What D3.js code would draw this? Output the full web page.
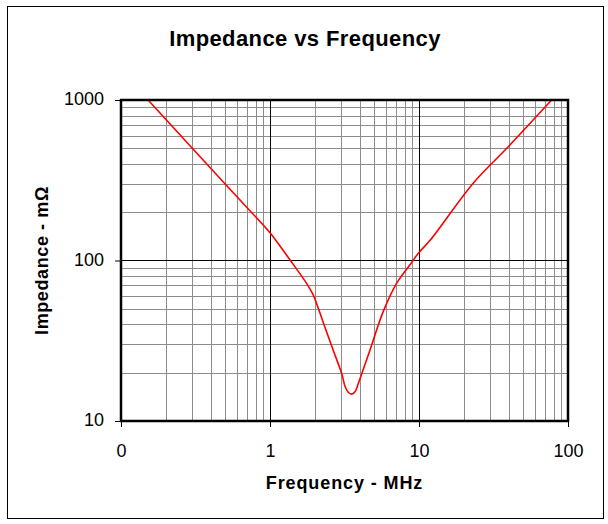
<!DOCTYPE html>
<html>
<head>
<meta charset="utf-8">
<script src="https://cdn.jsdelivr.net/npm/d3@7"></script>
<style>
  html, body { margin: 0; padding: 0; background: #fff; }
  svg { display: block; font-family: "Liberation Sans", Arial, sans-serif; }
</style>
</head>
<body>
<svg id="chart" width="608" height="524"></svg>
<script>
// ---- data ----
const freqMHz = [0.152, 0.3, 0.5, 0.7, 1.0, 1.36, 1.76, 1.95, 2.11, 2.28, 2.66, 3.03, 3.19, 3.35, 3.53, 3.72, 3.92, 4.69, 5.75, 7.07, 8.7, 9.9, 11.9, 23.1, 38.8, 77.6];
const impedance = [1000, 502, 300, 214, 149, 101, 72, 61, 50.3, 41, 27.5, 19.7, 16.4, 15.1, 14.7, 15.2, 17.2, 27.7, 48, 72, 94, 111, 134, 303, 500, 1000];
const xTickValues = [0.1, 1, 10, 100];
const xTickLabels = ["0", "1", "10", "100"];
const yTickValues = [10, 100, 1000];
const yTickLabels = ["10", "100", "1000"];
const title = "Impedance vs Frequency";
const xTitle = "Frequency - MHz";
const yTitle = "Impedance - mΩ";

// ---- layout ----
const svg = d3.select("#chart");
const L = 121, R = 568, T = 100, B = 421;

const x = d3.scaleLog().domain([0.1, 100]).range([L, R]);
const y = d3.scaleLog().domain([10, 1000]).range([B, T]);

// outer border
svg.append("rect").attr("x", 7.5).attr("y", 6.5).attr("width", 596).attr("height", 512)
  .attr("fill", "#fff").attr("stroke", "#000").attr("stroke-width", 1);

// minor gridlines
const minorX = [], minorY = [];
for (let d = 0.1; d < 100; d *= 10) for (let k = 2; k <= 9; k++) minorX.push(d * k);
for (let d = 10; d < 1000; d *= 10) for (let k = 2; k <= 9; k++) minorY.push(d * k);

const grid = svg.append("g");
grid.selectAll(".mx").data(minorX).join("line")
  .attr("x1", d => Math.round(x(d)) + 0.5).attr("x2", d => Math.round(x(d)) + 0.5)
  .attr("y1", T).attr("y2", B).attr("stroke", "#8c8c8c").attr("stroke-width", 1);
grid.selectAll(".my").data(minorY).join("line")
  .attr("y1", d => Math.round(y(d)) + 0.5).attr("y2", d => Math.round(y(d)) + 0.5)
  .attr("x1", L).attr("x2", R).attr("stroke", "#8c8c8c").attr("stroke-width", 1);

// major gridlines
grid.selectAll(".Mx").data([1, 10]).join("line")
  .attr("x1", d => Math.round(x(d)) + 0.5).attr("x2", d => Math.round(x(d)) + 0.5)
  .attr("y1", T).attr("y2", B).attr("stroke", "#000").attr("stroke-width", 1);
grid.selectAll(".My").data([100]).join("line")
  .attr("y1", d => Math.round(y(d)) + 0.5).attr("y2", d => Math.round(y(d)) + 0.5)
  .attr("x1", L).attr("x2", R).attr("stroke", "#000").attr("stroke-width", 1);

// axes
const xAxis = d3.axisBottom(x).tickValues(xTickValues)
  .tickFormat((d, i) => xTickLabels[i]).tickSize(6).tickPadding(17);
const yAxis = d3.axisLeft(y).tickValues(yTickValues)
  .tickFormat((d, i) => yTickLabels[i]).tickSize(6).tickPadding(11);

const gx = svg.append("g").attr("transform", `translate(0,${B})`).call(xAxis);
const gy = svg.append("g").attr("transform", `translate(${L},0)`).call(yAxis);
[gx, gy].forEach(g => {
  g.select(".domain").remove();
  g.selectAll("text").attr("font-size", 18).attr("fill", "#000")
    .attr("font-family", "'Liberation Sans', Arial, sans-serif");
  g.selectAll("line").attr("stroke", "#000");
});
gy.selectAll("text").attr("dy", "0.26em");

// curve
const line = d3.line()
  .x((d, i) => x(freqMHz[i]))
  .y((d, i) => y(impedance[i]))
  .curve(d3.curveCatmullRom.alpha(0.5));
svg.append("path").datum(impedance).attr("d", line)
  .attr("fill", "none").attr("stroke", "#ff0000").attr("stroke-width", 1.6);

// plot border
svg.append("rect").attr("x", L).attr("y", T).attr("width", R - L).attr("height", B - T)
  .attr("fill", "none").attr("stroke", "#000").attr("stroke-width", 2.5);

// titles
svg.append("text").attr("x", 305).attr("y", 46).attr("text-anchor", "middle")
  .attr("font-size", 22).attr("font-weight", "bold").attr("letter-spacing", 0.4).text(title);
svg.append("text").attr("x", (L + R) / 2).attr("y", 489).attr("text-anchor", "middle")
  .attr("font-size", 18).attr("font-weight", "bold").attr("letter-spacing", 0.9).text(xTitle);
svg.append("text").attr("transform", `translate(48,${(T + B) / 2}) rotate(-90)`)
  .attr("text-anchor", "middle")
  .attr("font-size", 18).attr("font-weight", "bold").attr("letter-spacing", 0.6).text(yTitle);
</script>
</body>
</html>
